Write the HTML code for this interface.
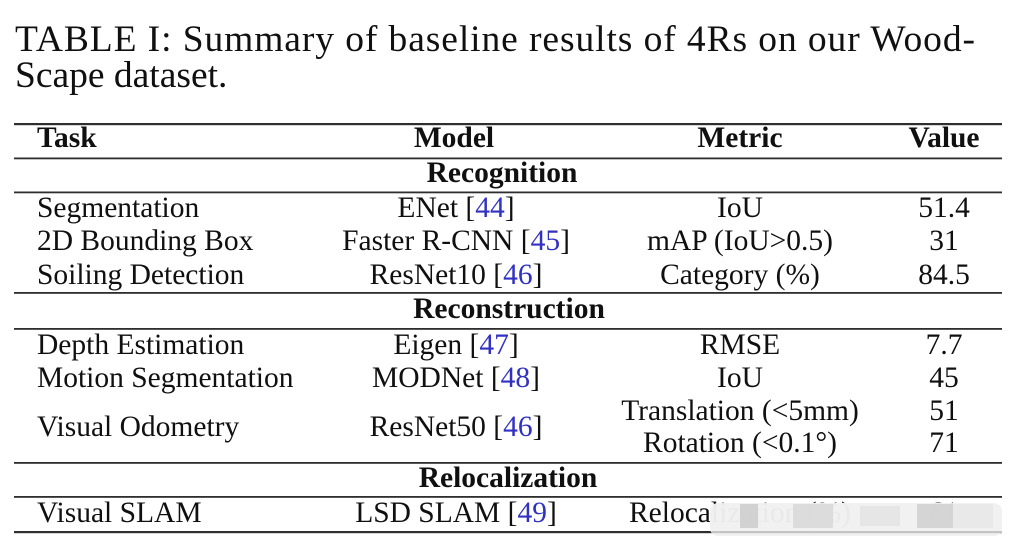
<!DOCTYPE html>
<html>
<head>
<meta charset="utf-8">
<style>
  html, body { margin: 0; padding: 0; background: #ffffff; }
  body { width: 1010px; height: 542px; overflow: hidden; }
  svg { display: block; }
  text { font-family: "Liberation Serif", "Times New Roman", serif; fill: #101010; }
  .b { font-weight: bold; }
  .c { fill: #3232c0; }
</style>
</head>
<body>
<svg width="1010" height="542" viewBox="0 0 1010 542" xmlns="http://www.w3.org/2000/svg">
  <rect width="1010" height="542" fill="#ffffff"/>

  <!-- Caption -->
  <text x="15" y="51" font-size="37.5" textLength="960" lengthAdjust="spacing">TABLE I: Summary of baseline results of 4Rs on our Wood-</text>
  <text x="15" y="87" font-size="37.5">Scape dataset.</text>

  <!-- Rules -->
  <g fill="#2e2e2e">
    <rect x="14" y="123" width="988" height="2.2"/>
    <rect x="14" y="157.5" width="988" height="1.8"/>
    <rect x="14" y="191.5" width="988" height="1.8"/>
    <rect x="14" y="292" width="988" height="1.8"/>
    <rect x="14" y="328" width="988" height="1.8"/>
    <rect x="14" y="462" width="988" height="1.8"/>
    <rect x="14" y="496" width="988" height="1.8"/>
    <rect x="14" y="531" width="988" height="2.2"/>
  </g>

  <g font-size="29.5">
    <!-- Header -->
    <text class="b" x="37" y="147">Task</text>
    <text class="b" x="454" y="147" text-anchor="middle">Model</text>
    <text class="b" x="740" y="147" text-anchor="middle">Metric</text>
    <text class="b" x="944" y="147" text-anchor="middle">Value</text>

    <!-- Recognition -->
    <text class="b" x="502" y="182" text-anchor="middle">Recognition</text>

    <text x="37" y="217">Segmentation</text>
    <text x="456" y="217" text-anchor="middle">ENet [<tspan class="c">44</tspan>]</text>
    <text x="740" y="217" text-anchor="middle">IoU</text>
    <text x="944" y="217" text-anchor="middle">51.4</text>

    <text x="37" y="250">2D Bounding Box</text>
    <text x="456" y="250" text-anchor="middle">Faster R-CNN [<tspan class="c">45</tspan>]</text>
    <text x="740" y="250" text-anchor="middle">mAP (IoU&gt;0.5)</text>
    <text x="944" y="250" text-anchor="middle">31</text>

    <text x="37" y="284">Soiling Detection</text>
    <text x="456" y="284" text-anchor="middle">ResNet10 [<tspan class="c">46</tspan>]</text>
    <text x="740" y="284" text-anchor="middle">Category (%)</text>
    <text x="944" y="284" text-anchor="middle">84.5</text>

    <!-- Reconstruction -->
    <text class="b" x="509" y="318" text-anchor="middle">Reconstruction</text>

    <text x="37" y="354">Depth Estimation</text>
    <text x="456" y="354" text-anchor="middle">Eigen [<tspan class="c">47</tspan>]</text>
    <text x="740" y="354" text-anchor="middle">RMSE</text>
    <text x="944" y="354" text-anchor="middle">7.7</text>

    <text x="37" y="387">Motion Segmentation</text>
    <text x="456" y="387" text-anchor="middle">MODNet [<tspan class="c">48</tspan>]</text>
    <text x="740" y="387" text-anchor="middle">IoU</text>
    <text x="944" y="387" text-anchor="middle">45</text>

    <text x="37" y="436">Visual Odometry</text>
    <text x="456" y="436" text-anchor="middle">ResNet50 [<tspan class="c">46</tspan>]</text>
    <text x="740" y="420" text-anchor="middle">Translation (&lt;5mm)</text>
    <text x="944" y="420" text-anchor="middle">51</text>
    <text x="740" y="452" text-anchor="middle">Rotation (&lt;0.1°)</text>
    <text x="944" y="452" text-anchor="middle">71</text>

    <!-- Relocalization -->
    <text class="b" x="508" y="487" text-anchor="middle">Relocalization</text>

    <text x="37" y="522">Visual SLAM</text>
    <text x="456" y="522" text-anchor="middle">LSD SLAM [<tspan class="c">49</tspan>]</text>
    <text x="740" y="522" text-anchor="middle">Relocalization (%)</text>
    <text x="944" y="522" text-anchor="middle">61</text>
  </g>

  <!-- Watermark overlay -->
  <g>
    <rect x="710" y="503" width="292" height="33" rx="8" ry="8" fill="#f1f1f1" fill-opacity="0.97"/>
    <rect x="740" y="504" width="18" height="24" fill="#cdcdcd" fill-opacity="0.85"/>
    <rect x="793" y="504" width="40" height="24" fill="#d8d8d8" fill-opacity="0.85"/>
    <rect x="860" y="506" width="40" height="20" fill="#e4e4e4" fill-opacity="0.85"/>
    <rect x="917" y="504" width="36" height="24" fill="#d0d0d0" fill-opacity="0.85"/>
    <rect x="953" y="504" width="40" height="24" fill="#e8e8e8" fill-opacity="0.85"/>
    <rect x="712" y="531" width="290" height="2.2" fill="#c4c4c4"/>
  </g>
</svg>
</body>
</html>
